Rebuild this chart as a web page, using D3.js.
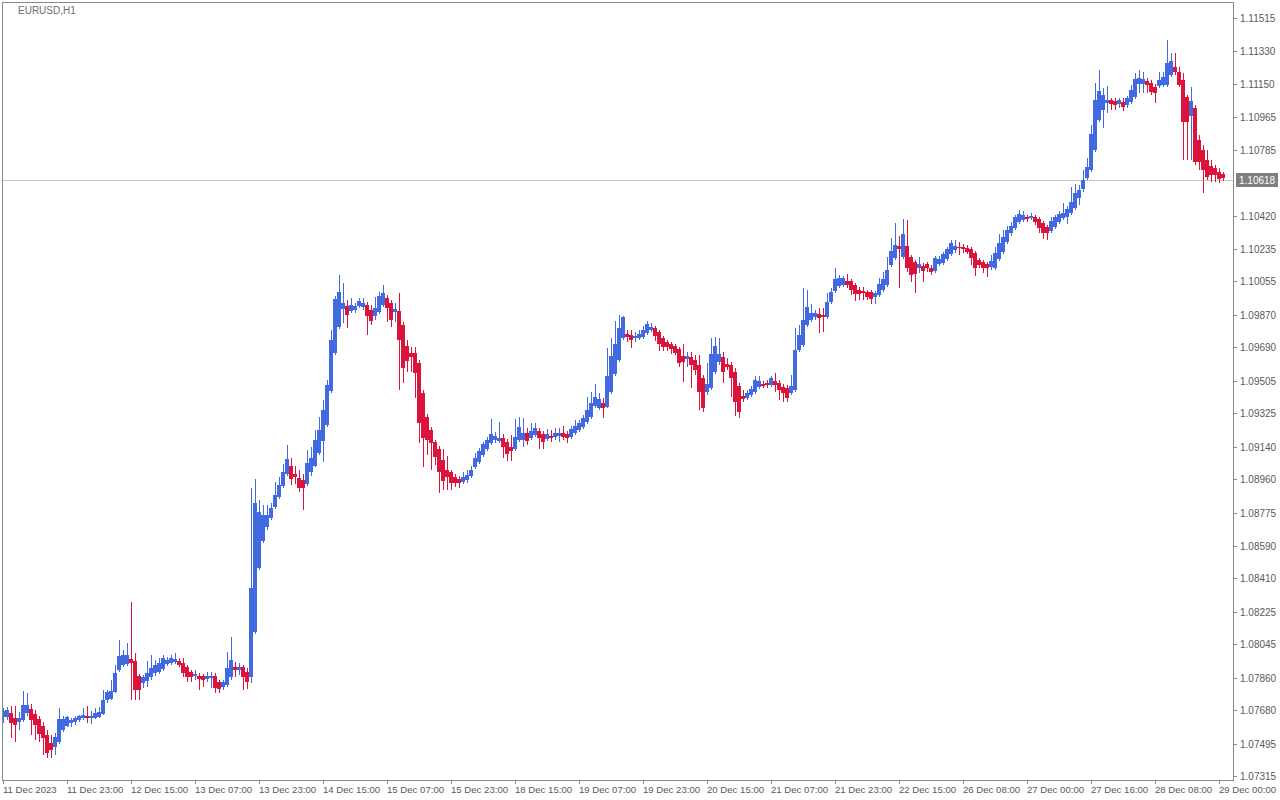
<!DOCTYPE html>
<html><head><meta charset="utf-8">
<script src="https://cdn.jsdelivr.net/npm/d3@7"></script>
<style>
html,body{margin:0;padding:0;background:#fff;}
svg{display:block;}
text{font-family:"Liberation Sans",Arial,sans-serif;}
</style>
</head><body>
<svg id="chart" width="1280" height="800"></svg>
<script>
const chartTitle = "EURUSD,H1";
const lastPrice = 1.10618;

const haOpen = [
1.07643,1.07643,1.07665,1.07637,1.07615,1.07626,1.07665,1.07687,1.07659,1.07632,
1.07593,1.07543,1.07499,1.07476,1.07504,1.07571,1.07593,1.07610,1.07615,1.07626,
1.07637,1.07648,1.07637,1.07637,1.07643,1.07659,1.07737,1.07743,1.07781,1.07903,
1.07931,1.07936,1.07964,1.07953,1.07870,1.07831,1.07842,1.07864,1.07887,1.07892,
1.07909,1.07936,1.07942,1.07947,1.07953,1.07942,1.07920,1.07892,1.07870,1.07870,
1.07870,1.07853,1.07859,1.07870,1.07837,1.07809,1.07820,1.07864,1.07920,1.07903,
1.07920,1.07892,1.07864,1.08114,1.08468,1.08618,1.08695,1.08745,1.08806,1.08862,
1.08923,1.08989,1.09033,1.08989,1.08967,1.08956,1.08934,1.09000,1.09033,1.09105,
1.09172,1.09260,1.09449,1.09659,1.09803,1.09903,1.09920,1.09892,1.09898,1.09920,
1.09914,1.09925,1.09898,1.09864,1.09886,1.09925,1.09964,1.09936,1.09886,1.09892,
1.09815,1.09698,1.09659,1.09659,1.09604,1.09438,1.09305,1.09233,1.09166,1.09127,
1.09067,1.09011,1.09000,1.08973,1.08961,1.08945,1.08956,1.08978,1.09028,1.09055,
1.09094,1.09127,1.09161,1.09177,1.09172,1.09189,1.09166,1.09139,1.09127,1.09177,
1.09177,1.09216,1.09189,1.09205,1.09227,1.09211,1.09183,1.09199,1.09194,1.09199,
1.09216,1.09211,1.09194,1.09216,1.09233,1.09249,1.09277,1.09305,1.09366,1.09355,
1.09382,1.09360,1.09443,1.09543,1.09621,1.09742,1.09764,1.09759,1.09742,1.09742,
1.09748,1.09770,1.09787,1.09798,1.09776,1.09742,1.09720,1.09709,1.09698,1.09681,
1.09643,1.09626,1.09637,1.09621,1.09593,1.09521,1.09443,1.09465,1.09554,1.09610,
1.09637,1.09599,1.09593,1.09554,1.09477,1.09421,1.09410,1.09427,1.09443,1.09471,
1.09488,1.09493,1.09482,1.09504,1.09493,1.09471,1.09465,1.09438,1.09454,1.09676,
1.09704,1.09815,1.09842,1.09859,1.09875,1.09870,1.09859,1.09942,1.10003,1.10030,
1.10036,1.10058,1.10058,1.10036,1.10009,1.10003,1.09997,1.09997,1.09970,1.09981,
1.10009,1.10036,1.10147,1.10186,1.10252,1.10191,1.10252,1.10191,1.10163,1.10130,
1.10141,1.10152,1.10130,1.10113,1.10152,1.10158,1.10180,1.10208,1.10230,1.10247,
1.10247,1.10241,1.10235,1.10213,1.10175,1.10163,1.10152,1.10136,1.10130,1.10180,
1.10219,1.10274,1.10324,1.10352,1.10385,1.10396,1.10413,1.10407,1.10413,1.10402,
1.10380,1.10357,1.10335,1.10357,1.10385,1.10407,1.10413,1.10435,1.10463,1.10518,
1.10568,1.10629,1.10673,1.10784,1.10950,1.11006,1.11044,1.11061,1.11056,1.11039,
1.11050,1.11033,1.11050,1.11078,1.11149,1.11149,1.11166,1.11155,1.11133,1.11139,
1.11144,1.11144,1.11199,1.11244,1.11216,1.11172,1.11078,1.10972,1.11017,1.10840,
1.10784,1.10729,1.10695,1.10684,1.10662,1.10651
];
const haClose = [
1.07676,1.07682,1.07610,1.07598,1.07637,1.07709,1.07709,1.07626,1.07598,1.07549,
1.07526,1.07443,1.07460,1.07532,1.07632,1.07632,1.07643,1.07626,1.07637,1.07648,
1.07654,1.07637,1.07648,1.07665,1.07671,1.07737,1.07781,1.07787,1.07887,1.07981,
1.07986,1.07986,1.07942,1.07792,1.07792,1.07864,1.07887,1.07914,1.07931,1.07942,
1.07970,1.07958,1.07970,1.07964,1.07931,1.07887,1.07864,1.07864,1.07881,1.07853,
1.07848,1.07870,1.07870,1.07803,1.07798,1.07837,1.07914,1.07958,1.07903,1.07920,
1.07864,1.07837,1.08357,1.08828,1.08779,1.08762,1.08762,1.08801,1.08873,1.08928,
1.09000,1.09072,1.08961,1.08973,1.08911,1.08911,1.09050,1.09078,1.09177,1.09233,
1.09344,1.09482,1.09731,1.09958,1.09997,1.09936,1.09870,1.09925,1.09920,1.09947,
1.09936,1.09864,1.09837,1.09909,1.09975,1.09992,1.09909,1.09842,1.09903,1.09731,
1.09576,1.09615,1.09637,1.09548,1.09271,1.09189,1.09177,1.09161,1.09083,1.09000,
1.08950,1.08973,1.08939,1.08939,1.08939,1.08973,1.08984,1.09011,1.09078,1.09116,
1.09155,1.09177,1.09211,1.09199,1.09189,1.09139,1.09100,1.09116,1.09194,1.09249,
1.09216,1.09172,1.09227,1.09244,1.09189,1.09166,1.09211,1.09189,1.09216,1.09216,
1.09194,1.09189,1.09238,1.09255,1.09271,1.09299,1.09344,1.09382,1.09416,1.09405,
1.09355,1.09532,1.09643,1.09709,1.09798,1.09859,1.09748,1.09731,1.09753,1.09764,
1.09787,1.09820,1.09803,1.09753,1.09709,1.09692,1.09692,1.09681,1.09659,1.09604,
1.09610,1.09643,1.09593,1.09565,1.09443,1.09355,1.09488,1.09654,1.09698,1.09654,
1.09554,1.09582,1.09521,1.09388,1.09333,1.09405,1.09438,1.09460,1.09510,1.09504,
1.09477,1.09482,1.09521,1.09482,1.09454,1.09438,1.09410,1.09477,1.09676,1.09759,
1.09842,1.09914,1.09881,1.09881,1.09853,1.09859,1.09942,1.09997,1.10069,1.10075,
1.10075,1.10036,1.10009,1.09986,1.09986,1.09992,1.09970,1.09958,1.09992,1.10042,
1.10069,1.10119,1.10224,1.10258,1.10235,1.10318,1.10130,1.10091,1.10097,1.10152,
1.10113,1.10130,1.10108,1.10186,1.10180,1.10208,1.10235,1.10269,1.10252,1.10241,
1.10235,1.10219,1.10186,1.10130,1.10147,1.10130,1.10130,1.10169,1.10213,1.10269,
1.10302,1.10341,1.10363,1.10413,1.10430,1.10424,1.10402,1.10418,1.10385,1.10352,
1.10324,1.10324,1.10391,1.10413,1.10430,1.10435,1.10457,1.10496,1.10546,1.10562,
1.10618,1.10690,1.10872,1.11061,1.11111,1.11089,1.11061,1.11039,1.11033,1.11061,
1.11022,1.11072,1.11116,1.11177,1.11183,1.11177,1.11144,1.11105,1.11100,1.11172,
1.11188,1.11266,1.11277,1.11216,1.11144,1.10939,1.10939,1.11056,1.10718,1.10718,
1.10673,1.10634,1.10645,1.10645,1.10623,1.10629
];
const haHigh = [
1.07693,1.07698,1.07704,1.07704,1.07671,1.07787,1.07776,1.07715,1.07682,1.07648,
1.07615,1.07571,1.07543,1.07554,1.07693,1.07648,1.07648,1.07637,1.07648,1.07654,
1.07693,1.07704,1.07676,1.07693,1.07698,1.07792,1.07792,1.07848,1.07931,1.08069,
1.08014,1.08053,1.08280,1.07997,1.07881,1.07875,1.07953,1.07986,1.07958,1.07970,
1.07986,1.07975,1.07986,1.07997,1.07970,1.07970,1.07931,1.07903,1.07903,1.07887,
1.07881,1.07892,1.07892,1.07887,1.07848,1.07848,1.08003,1.08086,1.07947,1.07942,
1.07931,1.07914,1.08911,1.08961,1.08845,1.08817,1.08817,1.08828,1.08945,1.08973,
1.09044,1.09150,1.09078,1.09033,1.09011,1.08989,1.09122,1.09139,1.09233,1.09305,
1.09399,1.09510,1.09787,1.09975,1.10091,1.10047,1.09953,1.09964,1.09936,1.09964,
1.09964,1.09942,1.09925,1.09970,1.09997,1.10036,1.09981,1.09953,1.09936,1.09992,
1.09831,1.09731,1.09692,1.09692,1.09621,1.09454,1.09321,1.09249,1.09177,1.09144,
1.09127,1.09089,1.09011,1.08989,1.08978,1.09000,1.09011,1.09033,1.09105,1.09133,
1.09166,1.09194,1.09294,1.09222,1.09277,1.09211,1.09183,1.09205,1.09294,1.09305,
1.09299,1.09244,1.09271,1.09271,1.09244,1.09227,1.09238,1.09233,1.09244,1.09244,
1.09255,1.09227,1.09255,1.09288,1.09288,1.09316,1.09416,1.09443,1.09488,1.09438,
1.09410,1.09687,1.09742,1.09837,1.09870,1.09864,1.09787,1.09787,1.09776,1.09787,
1.09809,1.09837,1.09826,1.09809,1.09787,1.09753,1.09731,1.09720,1.09709,1.09692,
1.09709,1.09665,1.09665,1.09648,1.09648,1.09537,1.09604,1.09742,1.09748,1.09742,
1.09665,1.09632,1.09610,1.09576,1.09493,1.09454,1.09454,1.09477,1.09532,1.09532,
1.09504,1.09510,1.09532,1.09548,1.09510,1.09488,1.09482,1.09537,1.09798,1.09815,
1.10020,1.10009,1.09931,1.09898,1.09909,1.09909,1.09992,1.10020,1.10130,1.10091,
1.10086,1.10097,1.10069,1.10047,1.10025,1.10025,1.10009,1.10009,1.10003,1.10075,
1.10108,1.10191,1.10296,1.10380,1.10307,1.10402,1.10396,1.10202,1.10175,1.10191,
1.10158,1.10163,1.10147,1.10197,1.10197,1.10219,1.10247,1.10285,1.10285,1.10274,
1.10263,1.10258,1.10247,1.10224,1.10186,1.10175,1.10163,1.10202,1.10247,1.10318,
1.10341,1.10363,1.10385,1.10424,1.10452,1.10446,1.10424,1.10435,1.10424,1.10413,
1.10391,1.10368,1.10413,1.10424,1.10446,1.10490,1.10474,1.10579,1.10596,1.10590,
1.10673,1.10740,1.10922,1.11155,1.11227,1.11128,1.11139,1.11072,1.11072,1.11072,
1.11072,1.11083,1.11144,1.11210,1.11227,1.11216,1.11183,1.11172,1.11149,1.11216,
1.11216,1.11393,1.11321,1.11321,1.11244,1.11210,1.11089,1.11133,1.11033,1.10867,
1.10812,1.10784,1.10729,1.10701,1.10684,1.10662
];
const haLow = [
1.07610,1.07626,1.07526,1.07504,1.07571,1.07615,1.07648,1.07543,1.07515,1.07504,
1.07432,1.07416,1.07416,1.07432,1.07493,1.07560,1.07587,1.07587,1.07598,1.07615,
1.07626,1.07610,1.07604,1.07632,1.07637,1.07654,1.07720,1.07737,1.07776,1.07892,
1.07920,1.07925,1.07737,1.07737,1.07737,1.07803,1.07809,1.07848,1.07870,1.07881,
1.07898,1.07925,1.07931,1.07936,1.07920,1.07864,1.07837,1.07837,1.07848,1.07792,
1.07809,1.07837,1.07803,1.07776,1.07776,1.07792,1.07809,1.07848,1.07864,1.07875,
1.07792,1.07798,1.07831,1.08103,1.08457,1.08607,1.08679,1.08734,1.08795,1.08851,
1.08911,1.08978,1.08928,1.08934,1.08889,1.08790,1.08923,1.08978,1.09028,1.09094,
1.09055,1.09249,1.09438,1.09648,1.09792,1.09826,1.09798,1.09881,1.09881,1.09909,
1.09898,1.09759,1.09815,1.09842,1.09875,1.09914,1.09831,1.09803,1.09831,1.09454,
1.09493,1.09554,1.09554,1.09410,1.09161,1.09028,1.09094,1.09011,1.09039,1.08884,
1.08900,1.08900,1.08900,1.08917,1.08911,1.08934,1.08939,1.08967,1.09017,1.09044,
1.09083,1.09116,1.09150,1.09161,1.09161,1.09078,1.09061,1.09061,1.09116,1.09166,
1.09139,1.09150,1.09177,1.09194,1.09127,1.09127,1.09172,1.09166,1.09177,1.09166,
1.09177,1.09161,1.09183,1.09205,1.09222,1.09238,1.09266,1.09294,1.09355,1.09344,
1.09299,1.09355,1.09432,1.09532,1.09610,1.09731,1.09720,1.09687,1.09720,1.09731,
1.09737,1.09759,1.09776,1.09726,1.09670,1.09670,1.09670,1.09654,1.09648,1.09582,
1.09499,1.09582,1.09465,1.09537,1.09344,1.09333,1.09427,1.09454,1.09543,1.09593,
1.09493,1.09565,1.09416,1.09310,1.09299,1.09388,1.09399,1.09416,1.09432,1.09460,
1.09465,1.09465,1.09471,1.09443,1.09399,1.09388,1.09388,1.09427,1.09443,1.09665,
1.09692,1.09803,1.09831,1.09842,1.09770,1.09776,1.09848,1.09931,1.09992,1.10020,
1.10025,1.10020,1.09981,1.09947,1.09953,1.09953,1.09953,1.09931,1.09931,1.09970,
1.09997,1.10025,1.10136,1.10175,1.10020,1.10180,1.10108,1.10053,1.09992,1.10102,
1.10053,1.10108,1.10091,1.10102,1.10141,1.10147,1.10169,1.10197,1.10213,1.10202,
1.10213,1.10208,1.10147,1.10086,1.10130,1.10102,1.10080,1.10119,1.10119,1.10169,
1.10208,1.10263,1.10307,1.10341,1.10374,1.10385,1.10385,1.10396,1.10368,1.10324,
1.10291,1.10285,1.10324,1.10346,1.10374,1.10396,1.10374,1.10424,1.10452,1.10479,
1.10551,1.10618,1.10662,1.10773,1.10939,1.10906,1.10989,1.11006,1.11006,1.11017,
1.11000,1.11017,1.11039,1.11066,1.11100,1.11100,1.11100,1.11089,1.11044,1.11128,
1.11133,1.11133,1.11188,1.11199,1.11133,1.10729,1.10729,1.10729,1.10701,1.10673,
1.10546,1.10618,1.10607,1.10607,1.10601,1.10612
];

const priceTicks = [1.11515,1.11330,1.11150,1.10965,1.10785,1.10600,1.10420,1.10235,1.10055,1.09870,
  1.09690,1.09505,1.09325,1.09140,1.08960,1.08775,1.08590,1.08410,1.08225,1.08045,1.07860,1.07680,1.07495,1.07315];
const timeTickBars = [0,16,32,48,64,80,96,112,128,144,160,176,192,208,224,240,256,272,288,304];
const timeTickLabels = ["11 Dec 2023","11 Dec 23:00","12 Dec 15:00","13 Dec 07:00","13 Dec 23:00","14 Dec 15:00",
  "15 Dec 07:00","15 Dec 23:00","18 Dec 15:00","19 Dec 07:00","19 Dec 23:00","20 Dec 15:00","21 Dec 07:00",
  "21 Dec 23:00","22 Dec 15:00","26 Dec 08:00","27 Dec 00:00","27 Dec 16:00","28 Dec 08:00","29 Dec 00:00"];

const bullColor = "#4169E1", bearColor = "#DC143C";
const frameColor = "#8a8a8a", textColor = "#5a5a5a";

const svg = d3.select("#chart");
svg.append("rect").attr("width",1280).attr("height",800).attr("fill","#ffffff");

const plotL = 2, plotT = 2, plotR = 1233, plotB = 780;
const n = haOpen.length;
const x = d3.scaleLinear().domain([0, n-1]).range([3, 3 + 4*(n-1)]);
const y = d3.scaleLinear().domain([1.07315, 1.11515]).range([776, 18]);

svg.append("defs").append("clipPath").attr("id","clip")
  .append("rect").attr("x",plotL+1).attr("y",plotT+1).attr("width",plotR-plotL-1).attr("height",plotB-plotT-1);

const g = svg.append("g").attr("clip-path","url(#clip)").attr("shape-rendering","crispEdges");

// current price line
g.append("line").attr("x1",plotL).attr("x2",plotR)
  .attr("y1",Math.round(y(lastPrice))+0.5).attr("y2",Math.round(y(lastPrice))+0.5)
  .attr("stroke","#c8c8c8").attr("stroke-width",1);

const idx = d3.range(n);
const col = i => haClose[i] >= haOpen[i] ? bullColor : bearColor;

g.selectAll("rect.wick").data(idx).join("rect").attr("class","wick")
  .attr("x", i => Math.round(x(i)))
  .attr("width", 1)
  .attr("y", i => Math.round(y(haHigh[i])))
  .attr("height", i => Math.max(1, Math.round(y(haLow[i])) - Math.round(y(haHigh[i]))))
  .attr("fill", col);

g.selectAll("rect.body").data(idx).join("rect").attr("class","body")
  .attr("x", i => Math.round(x(i)) - 2)
  .attr("width", 4)
  .attr("y", i => Math.round(y(Math.max(haOpen[i], haClose[i]))))
  .attr("height", i => Math.max(1, Math.round(y(Math.min(haOpen[i], haClose[i]))) - Math.round(y(Math.max(haOpen[i], haClose[i])))))
  .attr("fill", col);

// frame
svg.append("rect").attr("x",plotL+0.5).attr("y",plotT+0.5).attr("width",plotR-plotL).attr("height",plotB-plotT)
  .attr("fill","none").attr("stroke",frameColor).attr("stroke-width",1).attr("shape-rendering","crispEdges");

// title
svg.append("text").attr("x",18).attr("y",14).attr("font-size",10).attr("fill","#6e6e6e").text(chartTitle);

// price axis
const lastY = y(lastPrice);
const pt = svg.append("g");
priceTicks.forEach(p => {
  const yy = Math.round(y(p));
  if (Math.abs(yy - lastY) < 10) return;
  pt.append("line").attr("x1",plotR).attr("x2",plotR+4).attr("y1",yy+0.5).attr("y2",yy+0.5)
    .attr("stroke",frameColor).attr("shape-rendering","crispEdges");
  pt.append("text").attr("x",plotR+7).attr("y",yy+4).attr("font-size",10).attr("fill",textColor).text(p.toFixed(5));
});

// last price box
const by = Math.round(lastY);
svg.append("rect").attr("x",plotR+3).attr("y",by-7).attr("width",42).attr("height",14).attr("fill","#7f7f7f");
svg.append("text").attr("x",plotR+6).attr("y",by+4).attr("font-size",10).attr("fill","#ffffff").text(lastPrice.toFixed(5));

// time axis
const tt = svg.append("g");
timeTickBars.forEach((b,k) => {
  const xx = Math.round(x(b));
  tt.append("line").attr("x1",xx+0.5).attr("x2",xx+0.5).attr("y1",plotB).attr("y2",plotB+4)
    .attr("stroke",frameColor).attr("shape-rendering","crispEdges");
  tt.append("text").attr("x",xx).attr("y",793).attr("font-size",9.6).attr("fill",textColor).text(timeTickLabels[k]);
});
</script>
</body></html>
